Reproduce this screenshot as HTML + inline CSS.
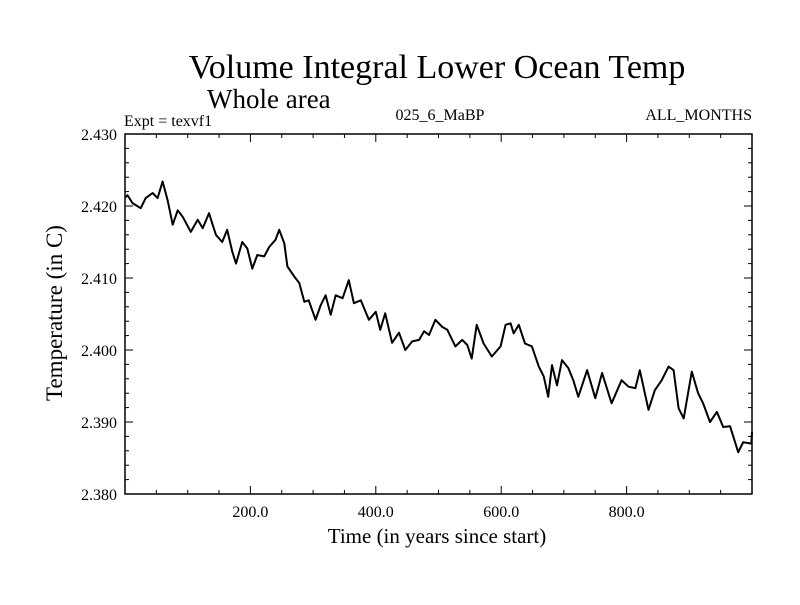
<!DOCTYPE html>
<html><head><meta charset="utf-8"><style>
body{margin:0;background:#fff}
svg text{font-family:"Liberation Serif",serif;fill:#000}
</style></head><body>
<svg id="c" width="800" height="600" xmlns="http://www.w3.org/2000/svg">
<rect width="800" height="600" fill="#fff"/>
<text x="437" y="78" font-size="34" text-anchor="middle">Volume Integral Lower Ocean Temp</text>
<text x="207" y="108" font-size="27">Whole area</text>
<text x="124" y="126" font-size="16">Expt = texvf1</text>
<text x="440" y="120" font-size="16" text-anchor="middle">025_6_MaBP</text>
<text x="752" y="120" font-size="16" text-anchor="end">ALL_MONTHS</text>
<text x="437" y="543" font-size="21" text-anchor="middle">Time (in years since start)</text>
<text transform="translate(62,313) rotate(-90)" font-size="23" text-anchor="middle">Temperature (in C)</text>
<g id="axes"></g>
<path id="line" fill="none" stroke="#000" stroke-width="2" stroke-linejoin="round"/>
<rect x="125" y="134" width="627" height="360" fill="none" stroke="#000" stroke-width="1.5"/>
</svg>
<script>
const years=[1,4,12,25,33,44,52,60,68,76,84,92,105,116,124,134,145,155,163,171,177,187,195,203,211,222,230,240,246,254,259,270,278,286,293,304,312,320,328,336,347,357,365,376,389,400,407,415,426,437,447,458,469,477,485,495,506,514,527,538,546,553,561,572,585,599,607,615,620,628,638,649,660,668,675,681,689,697,707,715,723,737,750,761,776,792,803,814,821,835,845,856,867,875,883,891,904,914,922,933,944,954,965,978,986,999,1000];
const temps=[2.4212,2.4215,2.4204,2.4197,2.4211,2.4218,2.4211,2.4234,2.4208,2.4174,2.4194,2.4185,2.4164,2.4181,2.4169,2.4190,2.4160,2.4150,2.4167,2.4137,2.4120,2.4150,2.4141,2.4113,2.4132,2.4130,2.4143,2.4153,2.4167,2.4148,2.4116,2.4102,2.4093,2.4067,2.4069,2.4042,2.4062,2.4076,2.4049,2.4076,2.4072,2.4097,2.4065,2.4069,2.4042,2.4053,2.4028,2.4051,2.4010,2.4024,2.4000,2.4012,2.4014,2.4026,2.4021,2.4042,2.4032,2.4028,2.4005,2.4014,2.4007,2.3988,2.4035,2.4009,2.3991,2.4005,2.4035,2.4037,2.4023,2.4035,2.4009,2.4005,2.3977,2.3963,2.3935,2.3979,2.3951,2.3986,2.3975,2.3958,2.3935,2.3972,2.3933,2.3968,2.3926,2.3958,2.3949,2.3947,2.3972,2.3917,2.3944,2.3958,2.3977,2.3972,2.3919,2.3905,2.3970,2.3940,2.3926,2.3900,2.3914,2.3893,2.3894,2.3858,2.3872,2.3870,2.3886];
const xTicks=[200,400,600,800];
const xTickLabels=["200.0","400.0","600.0","800.0"];
const yTicks=[2.38,2.39,2.40,2.41,2.42,2.43];
const yTickLabels=["2.380","2.390","2.400","2.410","2.420","2.430"];
const X0=125,X1=752,Y0=494,Y1=134,xmin=0,xmax=1000,ymin=2.38,ymax=2.43;
const sx=v=>X0+(v-xmin)/(xmax-xmin)*(X1-X0);
const sy=v=>Y0-(v-ymin)/(ymax-ymin)*(Y0-Y1);
const NS="http://www.w3.org/2000/svg";
const g=document.getElementById('axes');
function ln(x1,y1,x2,y2,name){const l=document.createElementNS(NS,'line');
l.setAttribute('x1',x1);l.setAttribute('y1',y1);l.setAttribute('x2',x2);l.setAttribute('y2',y2);
l.setAttribute('stroke','#000');l.setAttribute('stroke-width','1');


g.appendChild(l);}
function tx(x,y,s,anchor,name){const t=document.createElementNS(NS,'text');
t.setAttribute('x',x);t.setAttribute('y',y);t.setAttribute('font-size','16');t.setAttribute('text-anchor',anchor);t.textContent=s;


g.appendChild(t);}
for(let v=50;v<1000;v+=50){const major=v%200===0;const L=major?8:4;
ln(sx(v),Y0,sx(v),Y0-L,'x-tick');ln(sx(v),Y1,sx(v),Y1+L,'x-tick-top');}
xTicks.forEach((v,i)=>tx(sx(v),517,xTickLabels[i],'middle','x-tick-label'));
for(let k=0;k<=25;k++){const v=ymin+k*0.002;const major=k%5===0;const L=major?8:4;
ln(X0,sy(v),X0+L,sy(v),'y-tick');ln(X1,sy(v),X1-L,sy(v),'y-tick-right');}
yTicks.forEach((v,i)=>tx(117,sy(v)+6,yTickLabels[i],'end','y-tick-label'));
let d='';years.forEach((y,i)=>{d+=(i?'L':'M')+sx(y).toFixed(1)+' '+sy(temps[i]).toFixed(1);});
document.getElementById('line').setAttribute('d',d);
</script>
</body></html>
